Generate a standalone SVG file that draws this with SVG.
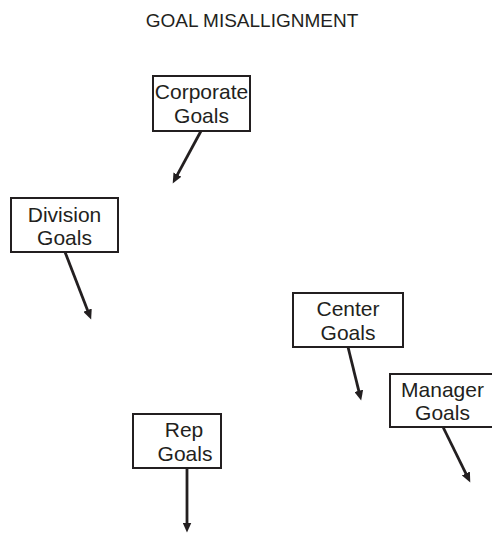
<svg xmlns="http://www.w3.org/2000/svg" width="492" height="534" viewBox="0 0 492 534">
  <style>
    .title { font-family: "Liberation Sans", Arial, sans-serif; font-size: 19px; fill: #231f20; text-anchor: middle; }
    .box rect { fill: #ffffff; stroke: #231f20; stroke-width: 2; }
    .box text { font-family: "Liberation Sans", Arial, sans-serif; font-size: 21px; fill: #231f20; text-anchor: middle; }
    .conn { stroke: #231f20; stroke-width: 2.8; fill: none; marker-end: url(#head); }
  </style>
  <defs>
    <marker id="head" markerUnits="userSpaceOnUse" markerWidth="11" markerHeight="9" refX="3.5" refY="4.5" orient="auto">
      <path d="M0,0 L10,4.5 L0,9 z" fill="#231f20"/>
    </marker>
  </defs>
  <rect width="492" height="534" fill="#ffffff"/>

  <text class="title" x="252" y="26.5">GOAL MISALLIGNMENT</text>

  <g id="corporate" class="box">
    <rect x="153" y="76" width="97" height="55"/>
    <text x="201.5" y="99">Corporate</text>
    <text x="201.5" y="123">Goals</text>
  </g>

  <g id="division" class="box">
    <rect x="11" y="198" width="107" height="54"/>
    <text x="64.5" y="222">Division</text>
    <text x="64.5" y="245">Goals</text>
  </g>

  <g id="center" class="box">
    <rect x="293" y="293" width="110" height="54"/>
    <text x="348" y="316">Center</text>
    <text x="348" y="340">Goals</text>
  </g>

  <g id="manager" class="box">
    <rect x="390" y="374" width="105" height="53"/>
    <text x="442.5" y="397">Manager</text>
    <text x="442.5" y="420">Goals</text>
  </g>

  <g id="rep" class="box">
    <rect x="133" y="414" width="88" height="54"/>
    <text x="184" y="437">Rep</text>
    <text x="185" y="461">Goals</text>
  </g>

  <g id="connectors">
    <path class="conn" d="M201,131 L175.8,177.7"/>
    <path class="conn" d="M65,252 L88.8,313.4"/>
    <path class="conn" d="M348,347 L359.6,394.2"/>
    <path class="conn" d="M443,427 L467.4,476.6"/>
    <path class="conn" d="M187,468 L187,526"/>
  </g>
</svg>
